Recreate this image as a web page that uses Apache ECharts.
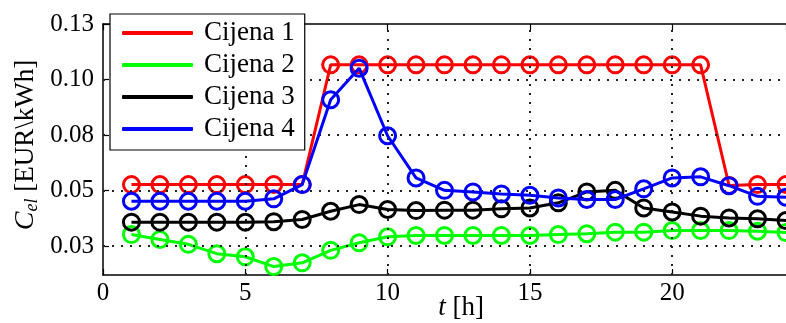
<!DOCTYPE html>
<html>
<head>
<meta charset="utf-8">
<script src="https://cdn.jsdelivr.net/npm/echarts@6/dist/echarts.min.js"></script>
<style>
html,body{margin:0;padding:0;background:#fff;}
#chart{width:786px;height:323px;}
</style>
</head>
<body>
<div id="chart"></div>
<script>
var hours = [1,2,3,4,5,6,7,8,9,10,11,12,13,14,15,16,17,18,19,20,21,22,23,24];
var seriesNames = ['Cijena 1','Cijena 2','Cijena 3','Cijena 4'];
var cijena1 = [0.0527,0.0527,0.0527,0.0527,0.0527,0.0527,0.0527,0.1066,0.1066,0.1066,0.1066,0.1066,0.1066,0.1066,0.1066,0.1066,0.1066,0.1066,0.1066,0.1066,0.1066,0.0523,0.0527,0.0527];
var cijena2 = [0.0302,0.0280,0.0258,0.0216,0.0202,0.0158,0.0175,0.0231,0.0265,0.0292,0.0298,0.0298,0.0298,0.0298,0.0298,0.0302,0.0306,0.0313,0.0313,0.0320,0.0320,0.0320,0.0317,0.0311];
var cijena3 = [0.0358,0.0358,0.0358,0.0358,0.0358,0.0360,0.0370,0.0407,0.0437,0.0415,0.0410,0.0412,0.0412,0.0418,0.0422,0.0445,0.0494,0.0501,0.0422,0.0404,0.0385,0.0377,0.0373,0.0365];
var cijena4 = [0.0452,0.0452,0.0452,0.0452,0.0452,0.0463,0.0527,0.0909,0.1051,0.0747,0.0557,0.0501,0.0494,0.0485,0.0479,0.0467,0.0460,0.0460,0.0508,0.0557,0.0562,0.0522,0.0474,0.0470];
var colors = ['#ff0000','#00ff00','#000000','#0000ff'];
var yTickValues = [0.025,0.05,0.075,0.1,0.125];
var yTickLabels = ['0.03','0.05','0.08','0.10','0.13'];
var xTickValues = [0,5,10,15,20];
var yLabelText = '{c|C}{s|el}{n| [EUR\\kWh]}';
var xLabelText = '{i|t}{n| [h]}';

var FONT = '"Liberation Serif","DejaVu Serif",serif';
var allData = [cijena1,cijena2,cijena3,cijena4];

function pairs(arr){ return hours.map(function(h,i){ return [h, arr[i]]; }); }

var series = allData.map(function(d, k){
  return {
    name: seriesNames[k],
    type: 'line',
    data: pairs(d),
    symbol: 'circle',
    symbolSize: 16,
    showAllSymbol: true,
    lineStyle: {color: colors[k], width: 3},
    itemStyle: {color: 'rgba(0,0,0,0)', borderColor: colors[k], borderWidth: 3},
    emphasis: {disabled: true},
    animation: false,
    clip: true,
    z: 3 + k
  };
});

var gridStyle = {color: '#222', type: [2, 7], width: 2, opacity: 1};
var gridMarks = [];
yTickValues.slice(0, 4).forEach(function(v){ gridMarks.push({yAxis: v}); });
xTickValues.slice(1).forEach(function(v){ gridMarks.push({xAxis: v}); });
series.unshift({
  name: 'grid',
  type: 'line',
  data: [],
  silent: true,
  z: 1,
  markLine: {
    silent: true, symbol: 'none', animation: false, precision: 6,
    label: {show: false},
    lineStyle: gridStyle,
    emphasis: {disabled: true},
    data: gridMarks
  }
});

var chart = echarts.init(document.getElementById('chart'), null, {renderer:'canvas'});
chart.setOption({
  animation: false,
  backgroundColor: '#fff',
  grid: {left: 103, top: 24, right: -5, bottom: 48, containLabel: false},
  xAxis: [{
    type: 'value', min: 0, max: 24, interval: 5,
    axisLine: {show: true, onZero: false, lineStyle: {color: '#000', width: 1.5}},
    axisTick: {show: true, inside: true, length: 6, lineStyle: {color: '#000', width: 1.2}},
    axisLabel: {color: '#000', fontFamily: FONT, fontSize: 25, margin: 6,
      showMaxLabel: false},
    splitLine: {show: false}
  },{
    type: 'value', min: 0, max: 24, interval: 5, position: 'top',
    axisLine: {show: true, onZero: false, lineStyle: {color: '#000', width: 1.5}},
    axisTick: {show: true, inside: true, length: 6, lineStyle: {color: '#000', width: 1.2}},
    axisLabel: {show: false},
    splitLine: {show: false}
  }],
  yAxis: [{
    type: 'value', min: 0.012, max: 0.125,
    axisLine: {show: true, onZero: false, lineStyle: {color: '#000', width: 1.5}},
    axisTick: {show: true, inside: true, length: 6, customValues: yTickValues, lineStyle: {color: '#000', width: 1.2}},
    axisLabel: {color: '#000', fontFamily: FONT, fontSize: 25, margin: 9,
      customValues: yTickValues,
      formatter: function(v){
        for (var i=0;i<yTickValues.length;i++){ if (Math.abs(v-yTickValues[i])<1e-9) return yTickLabels[i]; }
        return '';
      }},
    splitLine: {show: false}
  }],
  legend: {
    show: true,
    orient: 'vertical',
    left: 110, top: 14,
    padding: [3, 10, 5, 12],
    itemGap: 0,
    itemWidth: 71, itemHeight: 4,
    borderColor: '#000', borderWidth: 1.2,
    backgroundColor: '#fff',
    selectedMode: false,
    textStyle: {color: '#000', fontFamily: FONT, fontSize: 27, lineHeight: 32, padding: [0,0,0,6]},
    data: seriesNames.map(function(n,k){ return {name: n, icon: 'roundRect', itemStyle: {color: colors[k], borderWidth: 0}}; }),
    z: 10
  },
  graphic: [
    {type: 'text', x: 26, y: 145, rotation: Math.PI/2, z: 20,
      style: {text: yLabelText, align: 'center', verticalAlign: 'middle', fill: '#000',
        font: '27px ' + FONT,
        rich: {
          c: {fontFamily: FONT, fontSize: 28, fontStyle: 'italic', fill: '#000'},
          s: {fontFamily: FONT, fontSize: 18, fontStyle: 'italic', fill: '#000', padding: [12,0,0,0]},
          n: {fontFamily: FONT, fontSize: 27, fill: '#000'}
        }}},
    {type: 'text', x: 461, y: 308, z: 20,
      style: {text: xLabelText, align: 'center', verticalAlign: 'middle', fill: '#000',
        font: '27px ' + FONT,
        rich: {
          i: {fontFamily: FONT, fontSize: 27, fontStyle: 'italic', fill: '#000'},
          n: {fontFamily: FONT, fontSize: 27, fill: '#000'}
        }}}
  ],
  series: series
});
</script>
</body>
</html>
